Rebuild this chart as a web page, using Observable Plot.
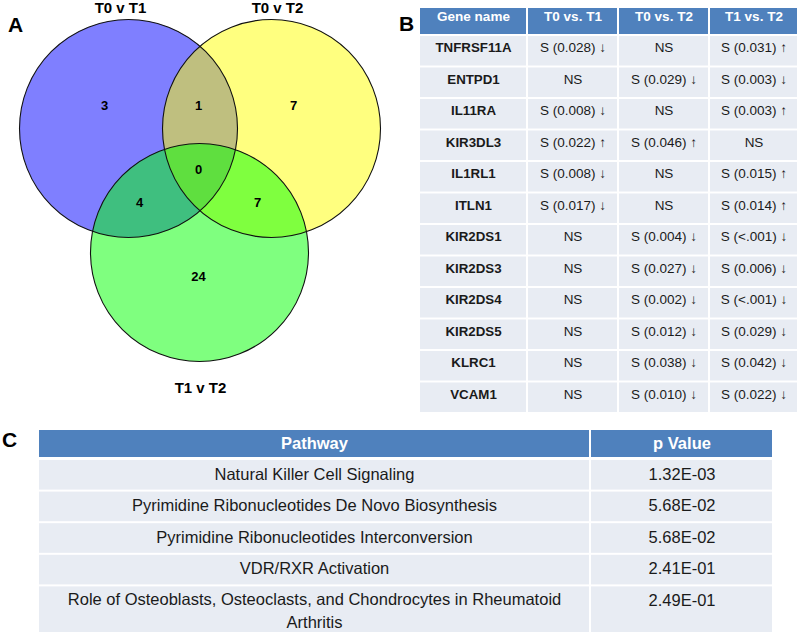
<!DOCTYPE html>
<html><head><meta charset="utf-8">
<script src="https://cdn.jsdelivr.net/npm/d3@7"></script>
<script src="https://cdn.jsdelivr.net/npm/@observablehq/plot@0.6"></script>
<style>body{margin:0;background:#fff}#chart{width:800px;height:632px}</style>
</head><body><div id="chart"></div>
<script>
// ---------------- DATA ----------------
const panelLetters = ["A", "B", "C"];

const vennSetNames = ["T0 v T1", "T0 v T2", "T1 v T2"];
const vennSetColors = ["#0000ff", "#ffff00", "#00ff00"];
const vennRegionKeys = ["100", "110", "010", "111", "101", "011", "001"];
const vennRegionCounts = [3, 1, 7, 0, 4, 7, 24];

const tableBHeader = ["Gene name", "T0 vs. T1", "T0 vs. T2", "T1 vs. T2"];
const geneNames = ["TNFRSF11A", "ENTPD1", "IL11RA", "KIR3DL3", "IL1RL1", "ITLN1",
  "KIR2DS1", "KIR2DS3", "KIR2DS4", "KIR2DS5", "KLRC1", "VCAM1"];
const t0VsT1 = ["S (0.028) ↓", "NS", "S (0.008) ↓", "S (0.022) ↑", "S (0.008) ↓", "S (0.017) ↓",
  "NS", "NS", "NS", "NS", "NS", "NS"];
const t0VsT2 = ["NS", "S (0.029) ↓", "NS", "S (0.046) ↑", "NS", "NS",
  "S (0.004) ↓", "S (0.027) ↓", "S (0.002) ↓", "S (0.012) ↓", "S (0.038) ↓", "S (0.010) ↓"];
const t1VsT2 = ["S (0.031) ↑", "S (0.003) ↓", "S (0.003) ↑", "NS", "S (0.015) ↑", "S (0.014) ↑",
  "S (<.001) ↓", "S (0.006) ↓", "S (<.001) ↓", "S (0.029) ↓", "S (0.042) ↓", "S (0.022) ↓"];

const tableCHeader = ["Pathway", "p Value"];
const pathwayNames = [
  "Natural Killer Cell Signaling",
  "Pyrimidine Ribonucleotides De Novo Biosynthesis",
  "Pyrimidine Ribonucleotides Interconversion",
  "VDR/RXR Activation",
  "Role of Osteoblasts, Osteoclasts, and Chondrocytes in Rheumatoid\nArthritis"
];
const pathwayPValues = ["1.32E-03", "5.68E-02", "5.68E-02", "2.41E-01", "2.49E-01"];

// ---------------- LAYOUT ----------------
const FONT = "Liberation Sans, Arial, Helvetica, sans-serif";
const HEAD = "#4f81bd", BODY = "#e8ecf3", INK = "#1a1a1a";

// Venn geometry
const venn = {cx: [128, 271, 199], cy: [128, 128, 252], r: 109};
const vennSetLabelPos = [[120, 8], [277, 8], [200, 388]];
const vennRegionPos = {"100": [104, 105], "110": [198, 105], "010": [293, 105], "111": [198, 169],
  "101": [139, 202], "011": [257, 202], "001": [198, 276]};
const letterPos = [[15, 25], [406, 24], [9, 440]];

const circles = vennSetNames.map((n, i) => ({name: n, cx: venn.cx[i], cy: venn.cy[i], color: vennSetColors[i]}));
const setLabels = vennSetNames.map((n, i) => ({text: n, x: vennSetLabelPos[i][0], y: vennSetLabelPos[i][1]}));
const regionLabels = vennRegionKeys.map((k, i) => ({text: String(vennRegionCounts[i]), x: vennRegionPos[k][0], y: vennRegionPos[k][1]}));
const letters = panelLetters.map((l, i) => ({text: l, x: letterPos[i][0], y: letterPos[i][1]}));

// Table B
const bCols = [419, 527, 618, 709, 798];
const bHeadTop = 7, bHeadBot = 35, bRowH = 31.5;
const bColumns = [geneNames, t0VsT1, t0VsT2, t1VsT2];
const bHeadCells = tableBHeader.map((h, j) => ({x1: bCols[j], x2: bCols[j + 1], y1: bHeadTop, y2: bHeadBot, text: h,
  x: (bCols[j] + bCols[j + 1]) / 2, y: bHeadTop + 9.5}));
const bBodyCells = [];
geneNames.forEach((g, i) => {
  bColumns.forEach((col, j) => {
    const top = bHeadBot + i * bRowH;
    bBodyCells.push({x1: bCols[j], x2: bCols[j + 1], y1: top, y2: top + bRowH, text: col[i], col: j,
      x: (bCols[j] + bCols[j + 1]) / 2, y: top + 12.5});
  });
});

// Table C
const cCols = [38, 590, 773];
const cHeadTop = 429, cHeadBot = 458, cRowTop = 459, cRowH = 31.6;
const cColumns = [pathwayNames, pathwayPValues];
const cHeadCells = tableCHeader.map((h, j) => ({x1: cCols[j], x2: cCols[j + 1], y1: cHeadTop, y2: cHeadBot, text: h,
  x: (cCols[j] + cCols[j + 1]) / 2, y: cHeadTop + 14}));
const cBodyCells = [];
pathwayNames.forEach((p, i) => {
  cColumns.forEach((col, j) => {
    const top = cRowTop + i * cRowH;
    const last = i === pathwayNames.length - 1;
    const multi = String(col[i]).includes("\n");
    cBodyCells.push({x1: cCols[j], x2: cCols[j + 1], y1: top, y2: last ? 660 : top + cRowH, text: col[i],
      x: (cCols[j] + cCols[j + 1]) / 2, y: multi ? top + 23 : top + 12.5});
  });
});

const chart = Plot.plot({
  width: 800, height: 632, margin: 0,
  x: {domain: [0, 800], range: [0, 800], axis: null},
  y: {domain: [0, 632], range: [0, 632], axis: null},
  color: {type: "identity"},
  style: {fontFamily: FONT, background: "#ffffff", overflow: "hidden"},
  marks: [
    // Venn fills then outlines
    Plot.dot(circles, {x: "cx", y: "cy", r: venn.r, fill: "color", fillOpacity: 0.5, stroke: null}),
    Plot.dot(circles, {x: "cx", y: "cy", r: venn.r, fill: "none", stroke: "#111", strokeWidth: 1.1}),
    Plot.text(regionLabels, {x: "x", y: "y", text: "text", fontSize: 13, fontWeight: "bold", fill: "#000"}),
    Plot.text(setLabels, {x: "x", y: "y", text: "text", fontSize: 15, fontWeight: "bold", fill: "#000"}),
    Plot.text(letters, {x: "x", y: "y", text: "text", fontSize: 21, fontWeight: "bold", fill: "#000"}),

    // Table B
    Plot.rect(bHeadCells, {x1: "x1", x2: "x2", y1: "y1", y2: "y2", fill: HEAD, inset: 1}),
    Plot.rect(bBodyCells, {x1: "x1", x2: "x2", y1: "y1", y2: "y2", fill: BODY, inset: 1}),
    Plot.text(bHeadCells, {x: "x", y: "y", text: "text", fill: "#fff", fontSize: 13.5, fontWeight: "bold"}),
    Plot.text(bBodyCells.filter(d => d.col === 0), {x: "x", y: "y", text: "text", fill: INK, fontSize: 13.3, fontWeight: "bold"}),
    Plot.text(bBodyCells.filter(d => d.col > 0), {x: "x", y: "y", text: "text", fill: INK, fontSize: 13.5}),

    // Table C
    Plot.rect(cHeadCells, {x1: "x1", x2: "x2", y1: "y1", y2: "y2", fill: HEAD, inset: 1}),
    Plot.rect(cBodyCells, {x1: "x1", x2: "x2", y1: "y1", y2: "y2", fill: BODY, inset: 1}),
    Plot.text(cHeadCells, {x: "x", y: "y", text: "text", fill: "#fff", fontSize: 16.5, fontWeight: "bold"}),
    Plot.text(cBodyCells, {x: "x", y: "y", text: "text", fill: INK, fontSize: 16.5, lineAnchor: "middle", lineHeight: 1.42})
  ]
});
document.getElementById("chart").appendChild(chart);
</script>
</body></html>
